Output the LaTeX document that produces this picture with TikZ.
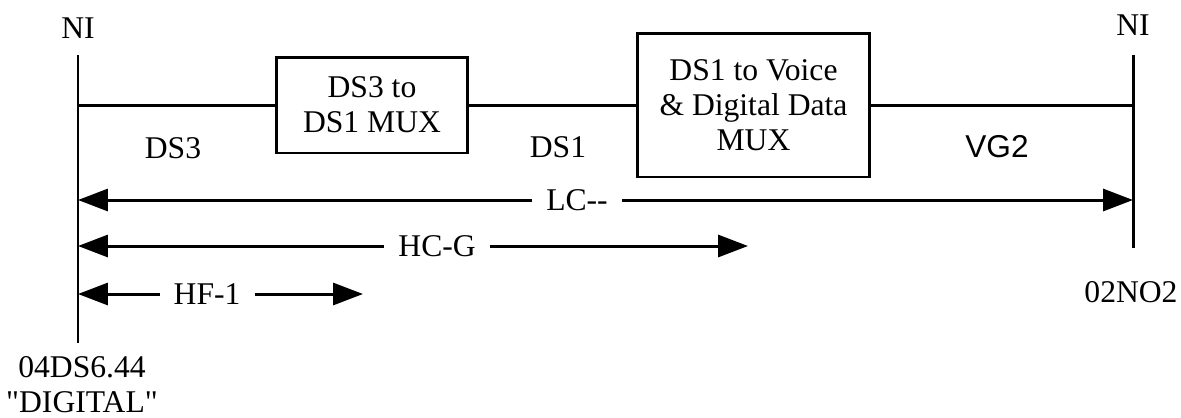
\documentclass[tikz,border=0pt]{standalone}
\usepackage{fontspec}
\setmainfont{Liberation Serif}[Ligatures=TeXOff]
\newfontfamily\arialfam{Liberation Sans}
\usetikzlibrary{arrows.meta}

\begin{document}
\begin{tikzpicture}[x=0.02cm, y=-0.02cm, line width=1.7pt,
  font=\fontsize{18}{19.8}\selectfont,
  mux/.style={draw, align=center, inner sep=0pt},
  lbl/.style={fill=white, inner xsep=8pt, inner ysep=1pt},
  span/.style={{Triangle[length=17pt,width=12.5pt]}-{Triangle[length=17pt,width=12.5pt]}}]
\useasboundingbox (0,0) rectangle (1181,417);
% NI lines
\coordinate (lt) at (78,55);
\coordinate (lb) at (78,343);
\coordinate (rt) at (1133,55);
\coordinate (rb) at (1133,248);
\draw (lt) -- (lb);
\draw (rt) -- (rb);
\node (nil) at (78,28) {NI};
\node (nir) at (1133,25) {NI};
\node[align=center, inner sep=0.5pt] (nilbl) at (82,385) {04DS6.44\\"DIGITAL"};
\node (nirlbl) at (1131,292) {02NO2};
% MUX chain
\node[mux, minimum width=3.84cm, minimum height=1.92cm] (mux31) at (372,105) {DS3 to\\DS1 MUX};
\node[mux, minimum width=4.66cm, minimum height=2.88cm] (mux1v) at (753.5,105) {DS1 to Voice\\\& Digital Data\\MUX};
\draw (lt |- mux31.west) -- (mux31.west);
\draw (mux31) -- (mux1v);
\draw (mux1v.east) -- (rt |- mux1v.east);
\node (ds3) at (173,148) {DS3};
\node (ds1) at (558,147) {DS1};
\node[font=\fontsize{18}{19.8}\arialfam] (vg2) at (997,147) {VG2};
% Spans
\coordinate (lc-l) at (78,200);
\coordinate (lc-r) at (1133,200);
\coordinate (hc-l) at (78,246);
\coordinate (hc-r) at (748,246);
\coordinate (hf-l) at (78,294);
\coordinate (hf-r) at (363,294);
\draw[span] (lc-l) -- node[lbl, pos=0.473] (lc) {LC{-}{-}} (lc-r);
\draw[span] (hc-l) -- node[lbl, pos=0.536] (hc) {HC-G} (hc-r);
\draw[span] (hf-l) -- node[lbl, pos=0.453] (hf) {HF-1} (hf-r);
\end{tikzpicture}
\end{document}
